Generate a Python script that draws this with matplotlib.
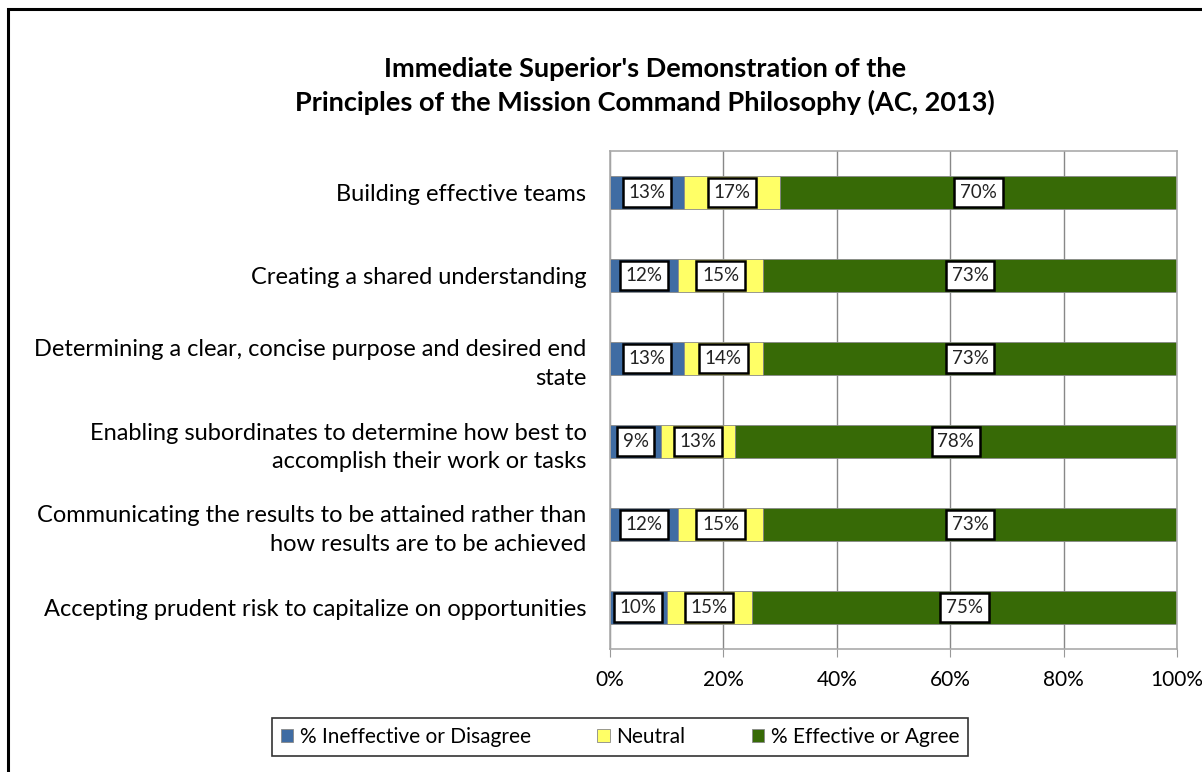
import numpy as np
import matplotlib.pyplot as plt
from matplotlib.patches import Rectangle

plt.rcParams['font.family'] = ['Lato', 'DejaVu Sans']

categories = [
    "Building effective teams",
    "Creating a shared understanding",
    "Determining a clear, concise purpose and desired end\nstate",
    "Enabling subordinates to determine how best to\naccomplish their work or tasks",
    "Communicating the results to be attained rather than\nhow results are to be achieved",
    "Accepting prudent risk to capitalize on opportunities",
]
ineffective = [13, 12, 13, 9, 12, 10]
neutral = [17, 15, 14, 13, 15, 15]
effective = [70, 73, 73, 78, 73, 75]
series_names = ["% Ineffective or Disagree", "Neutral", "% Effective or Agree"]
colors = ["#3F6CA3", "#FFFF66", "#376A06"]

fig = plt.figure(figsize=(12.02, 7.72), dpi=100)
ax = fig.add_axes([610 / 1202, 1 - 649 / 772, 567 / 1202, 498 / 772])

y = np.arange(len(categories))[::-1]
left = np.zeros(len(categories))
handles = []
for vals, col, name in zip([ineffective, neutral, effective], colors, series_names):
    vals = np.array(vals, dtype=float)
    b = ax.barh(y, vals, left=left, height=0.4, color=col, edgecolor="#888888",
                linewidth=0.6, label=name, zorder=2)
    handles.append(b)
    for yi, l, v in zip(y, left, vals):
        ax.text(l + v / 2, yi, f"{int(v)}%", ha="center", va="center", fontsize=13.5,
                color="#222222", zorder=4,
                bbox=dict(boxstyle="square,pad=0.3", fc="white", ec="black", lw=1.8))
    left += vals

ax.set_xlim(0, 100)
ax.set_ylim(-0.5, len(categories) - 0.5)
ax.set_xticks(np.arange(0, 101, 20))
ax.set_xticklabels([f"{t}%" for t in range(0, 101, 20)], fontsize=15)
ax.set_yticks(y)
ax.set_yticklabels(categories, fontsize=17, linespacing=1.45)
ax.tick_params(axis="y", length=0, pad=17)
ax.tick_params(axis="x", length=6, color="#999999", pad=9, direction="out")
ax.grid(axis="x", color="#888888", linewidth=1, zorder=0)
for s in ax.spines.values():
    s.set_color("#AAAAAA")
    s.set_linewidth(1.2)

fig.text(645 / 1202, 1 - 86 / 772, "Immediate Superior's Demonstration of the\n"
         "Principles of the Mission Command Philosophy (AC, 2013)",
         ha="center", va="center", fontsize=19.5, fontweight="bold", linespacing=1.42)

leg = fig.legend(handles=handles, loc="center", bbox_to_anchor=(620 / 1202, 1 - 737 / 772),
                 ncol=3, fontsize=15, frameon=True, fancybox=False, edgecolor="black",
                 handlelength=0.6, handleheight=0.6, handletextpad=0.3, columnspacing=3.2,
                 borderpad=0.45, borderaxespad=0)
leg.get_frame().set_linewidth(1.2)

fig.patches.append(Rectangle((8 / 1202, -0.1), 1.2, 1 - 9 / 772 + 0.1,
                             transform=fig.transFigure, fill=False, ec="black", lw=2.2))

fig.savefig("out.png", dpi=100)
